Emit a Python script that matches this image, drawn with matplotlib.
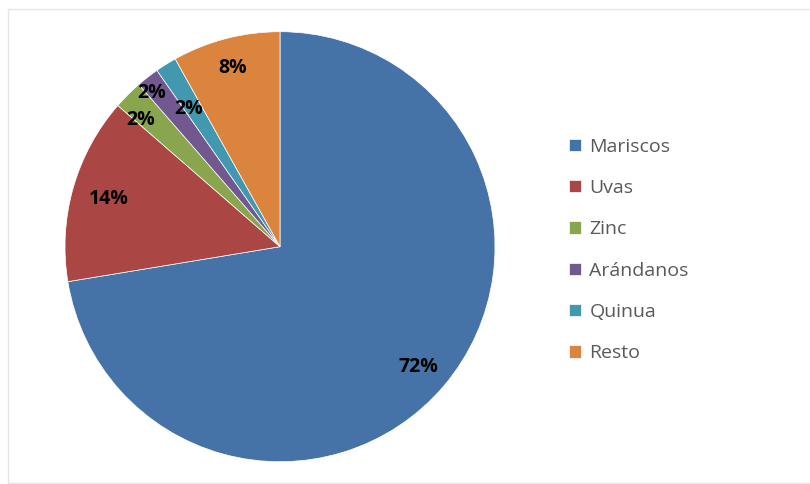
import matplotlib.pyplot as plt
from matplotlib.patches import Rectangle
import numpy as np

labels = ['Mariscos', 'Uvas', 'Zinc', 'Arándanos', 'Quinua', 'Resto']
values = [72.4, 14.0, 2.2, 1.7, 1.6, 8.1]
colors = ['#4572A7', '#AA4643', '#89A54E', '#71588F', '#4198AF', '#DB843D']
# per-label distance from the centre (the small ones are nudged, like Excel did)
label_r = [0.845, 0.83, 0.885, 0.94, 0.78, 0.87]
label_shift = [0, -0.5, 2, 1.3, 1, 0]

fig = plt.figure(figsize=(8.1, 4.84), dpi=100)
fig.patches.append(Rectangle((8 / 810, 1.5 / 484), 1, 474 / 484, transform=fig.transFigure,
                             facecolor='none', edgecolor='#E6E6E6', linewidth=1))

ax = fig.add_axes([65 / 810, 22.3 / 484, 430 / 810, 430 / 484])
wedges, _ = ax.pie(values, colors=colors, startangle=90, counterclock=False,
                   radius=1, wedgeprops=dict(edgecolor='white', linewidth=0.5))
ax.set_xlim(-1, 1)
ax.set_ylim(-1, 1)
ax.axis('off')

for w, v, r, s in zip(wedges, values, label_r, label_shift):
    ang = np.deg2rad((w.theta1 + w.theta2) / 2 + s)
    ax.text(r * np.cos(ang), r * np.sin(ang) - 0.013, f'{v:.0f}%', ha='center', va='center',
            fontsize=14, fontweight='bold', family='Open Sans', color='black')

leg = fig.legend(wedges, labels, loc='center left', bbox_to_anchor=(569 / 810, 234 / 484),
                 frameon=False, borderaxespad=0, borderpad=0, handlelength=0.6,
                 handleheight=0.6, handletextpad=0.45, labelspacing=1.2,
                 prop=dict(family='Open Sans', size=14))
for t in leg.get_texts():
    t.set_color('#595959')

fig.savefig('out.png', dpi=100)
